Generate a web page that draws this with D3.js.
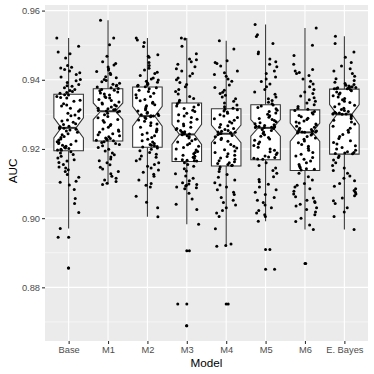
<!DOCTYPE html>
<html>
<head>
<meta charset="utf-8">
<script src="https://cdn.jsdelivr.net/npm/d3@7"></script>
<style>
  body { margin: 0; background: #fff; }
  text { font-family: "Liberation Sans", Arial, sans-serif; }
</style>
</head>
<body>
<div id="vis"></div>
<script>
const FRAME_WIDTH = 374;
const FRAME_HEIGHT = 374;
const MARGINS = {left: 45, right: 6, top: 5, bottom: 33};

// categories
const models = ["Base", "M1", "M2", "M3", "M4", "M5", "M6", "E. Bayes"];

// box statistics (lower whisker, Q1, median, Q3, upper whisker)
const whiskerLo = [0.8970, 0.9097, 0.9004, 0.8982, 0.8919, 0.8991, 0.8967, 0.8967];
const q1 =        [0.9195, 0.9223, 0.9205, 0.9164, 0.9151, 0.9169, 0.9138, 0.9185];
const medians =   [0.9261, 0.9309, 0.9295, 0.9242, 0.9244, 0.9261, 0.9248, 0.9300];
const q3 =        [0.9358, 0.9374, 0.9379, 0.9333, 0.9316, 0.9328, 0.9313, 0.9373];
const whiskerHi = [0.9521, 0.9572, 0.9521, 0.9521, 0.9513, 0.9560, 0.9550, 0.9526];
const notchLo =   [0.9232, 0.9285, 0.9266, 0.9213, 0.9218, 0.9237, 0.9222, 0.9270];
const notchHi =   [0.9290, 0.9333, 0.9323, 0.9271, 0.9269, 0.9285, 0.9275, 0.9328];

// AUC of each run, per model
const aucBase = [0.9521, 0.9497, 0.9480, 0.9475, 0.9463, 0.9441, 0.9436, 0.9434, 0.9430, 0.9425, 0.9420, 0.9415, 0.9408, 0.9401, 0.9397, 0.9392, 0.9386, 0.9383, 0.9381, 0.9377, 0.9372, 0.9369, 0.9366, 0.9363, 0.9361,
  0.9357, 0.9356, 0.9352, 0.9349, 0.9347, 0.9341, 0.9338, 0.9331, 0.9327, 0.9324, 0.9318, 0.9313, 0.9309, 0.9303, 0.9298, 0.9296, 0.9289, 0.9284, 0.9281, 0.9277, 0.9273, 0.9271, 0.9266, 0.9264, 0.9262,
  0.9260, 0.9259, 0.9257, 0.9255, 0.9252, 0.9248, 0.9244, 0.9241, 0.9236, 0.9233, 0.9229, 0.9226, 0.9223, 0.9221, 0.9219, 0.9216, 0.9213, 0.9211, 0.9208, 0.9205, 0.9203, 0.9201, 0.9199, 0.9197, 0.9196,
  0.9192, 0.9188, 0.9184, 0.9179, 0.9174, 0.9169, 0.9165, 0.9161, 0.9155, 0.9148, 0.9145, 0.9140, 0.9135, 0.9126, 0.9118, 0.9107, 0.9104, 0.9096, 0.9083, 0.9057, 0.9042, 0.9016, 0.8970, 0.8945, 0.8856];
const aucM1 = [0.9572, 0.9521, 0.9501, 0.9468, 0.9452, 0.9447, 0.9443, 0.9437, 0.9432, 0.9428, 0.9424, 0.9419, 0.9415, 0.9409, 0.9406, 0.9401, 0.9398, 0.9394, 0.9390, 0.9387, 0.9384, 0.9382, 0.9379, 0.9377, 0.9375,
  0.9372, 0.9370, 0.9368, 0.9365, 0.9362, 0.9359, 0.9356, 0.9352, 0.9349, 0.9347, 0.9343, 0.9340, 0.9336, 0.9333, 0.9330, 0.9327, 0.9324, 0.9321, 0.9318, 0.9316, 0.9314, 0.9313, 0.9311, 0.9310, 0.9309,
  0.9307, 0.9303, 0.9299, 0.9294, 0.9290, 0.9285, 0.9282, 0.9277, 0.9271, 0.9268, 0.9263, 0.9258, 0.9255, 0.9251, 0.9248, 0.9244, 0.9241, 0.9238, 0.9235, 0.9232, 0.9230, 0.9228, 0.9226, 0.9225, 0.9224,
  0.9221, 0.9219, 0.9216, 0.9213, 0.9209, 0.9204, 0.9199, 0.9194, 0.9188, 0.9183, 0.9177, 0.9171, 0.9166, 0.9160, 0.9154, 0.9147, 0.9142, 0.9135, 0.9128, 0.9121, 0.9115, 0.9110, 0.9106, 0.9101, 0.9097];
const aucM2 = [0.9521, 0.9515, 0.9508, 0.9496, 0.9472, 0.9468, 0.9465, 0.9450, 0.9441, 0.9433, 0.9428, 0.9422, 0.9418, 0.9412, 0.9405, 0.9402, 0.9399, 0.9396, 0.9393, 0.9391, 0.9388, 0.9386, 0.9384, 0.9382, 0.9380,
  0.9377, 0.9374, 0.9370, 0.9366, 0.9361, 0.9357, 0.9352, 0.9348, 0.9343, 0.9339, 0.9335, 0.9332, 0.9328, 0.9325, 0.9321, 0.9317, 0.9313, 0.9310, 0.9306, 0.9303, 0.9301, 0.9299, 0.9297, 0.9296, 0.9295,
  0.9293, 0.9291, 0.9288, 0.9284, 0.9280, 0.9276, 0.9272, 0.9268, 0.9263, 0.9258, 0.9254, 0.9250, 0.9246, 0.9242, 0.9238, 0.9233, 0.9228, 0.9224, 0.9220, 0.9216, 0.9213, 0.9211, 0.9209, 0.9207, 0.9206,
  0.9203, 0.9199, 0.9195, 0.9190, 0.9185, 0.9180, 0.9176, 0.9171, 0.9166, 0.9160, 0.9155, 0.9150, 0.9145, 0.9139, 0.9133, 0.9127, 0.9121, 0.9110, 0.9100, 0.9095, 0.9090, 0.9063, 0.9046, 0.9030, 0.9004];
const aucM3 = [0.9521, 0.9518, 0.9497, 0.9475, 0.9460, 0.9458, 0.9452, 0.9445, 0.9438, 0.9432, 0.9425, 0.9418, 0.9411, 0.9405, 0.9400, 0.9392, 0.9386, 0.9380, 0.9372, 0.9366, 0.9359, 0.9352, 0.9346, 0.9341, 0.9336,
  0.9331, 0.9328, 0.9324, 0.9321, 0.9317, 0.9312, 0.9308, 0.9303, 0.9299, 0.9295, 0.9291, 0.9286, 0.9281, 0.9277, 0.9272, 0.9267, 0.9263, 0.9259, 0.9256, 0.9253, 0.9250, 0.9248, 0.9246, 0.9244, 0.9243,
  0.9241, 0.9238, 0.9235, 0.9232, 0.9228, 0.9224, 0.9220, 0.9216, 0.9212, 0.9208, 0.9204, 0.9200, 0.9197, 0.9193, 0.9190, 0.9186, 0.9182, 0.9179, 0.9176, 0.9173, 0.9171, 0.9169, 0.9167, 0.9166, 0.9165,
  0.9160, 0.9155, 0.9150, 0.9143, 0.9136, 0.9128, 0.9122, 0.9115, 0.9108, 0.9102, 0.9099, 0.9097, 0.9095, 0.9093, 0.9090, 0.9088, 0.9085, 0.9072, 0.9055, 0.9040, 0.9025, 0.8982, 0.8906, 0.8752, 0.8689];
const aucM4 = [0.9513, 0.9489, 0.9455, 0.9450, 0.9447, 0.9440, 0.9425, 0.9420, 0.9415, 0.9410, 0.9402, 0.9396, 0.9385, 0.9378, 0.9370, 0.9364, 0.9360, 0.9355, 0.9350, 0.9345, 0.9338, 0.9333, 0.9327, 0.9322, 0.9318,
  0.9315, 0.9313, 0.9310, 0.9307, 0.9303, 0.9299, 0.9295, 0.9291, 0.9287, 0.9283, 0.9279, 0.9275, 0.9271, 0.9267, 0.9263, 0.9259, 0.9256, 0.9253, 0.9251, 0.9249, 0.9248, 0.9247, 0.9246, 0.9245, 0.9244,
  0.9242, 0.9239, 0.9235, 0.9231, 0.9227, 0.9222, 0.9218, 0.9213, 0.9208, 0.9203, 0.9198, 0.9194, 0.9190, 0.9186, 0.9182, 0.9178, 0.9174, 0.9170, 0.9166, 0.9163, 0.9160, 0.9158, 0.9155, 0.9153, 0.9152,
  0.9148, 0.9142, 0.9135, 0.9126, 0.9118, 0.9110, 0.9102, 0.9096, 0.9090, 0.9082, 0.9075, 0.9068, 0.9060, 0.9052, 0.9045, 0.9038, 0.9030, 0.9022, 0.9015, 0.9005, 0.8969, 0.8925, 0.8921, 0.8919, 0.8752];
const aucM5 = [0.9560, 0.9530, 0.9525, 0.9505, 0.9480, 0.9475, 0.9460, 0.9452, 0.9445, 0.9438, 0.9425, 0.9418, 0.9408, 0.9402, 0.9395, 0.9388, 0.9380, 0.9372, 0.9365, 0.9358, 0.9350, 0.9345, 0.9340, 0.9335, 0.9331,
  0.9327, 0.9324, 0.9320, 0.9316, 0.9312, 0.9308, 0.9304, 0.9300, 0.9296, 0.9292, 0.9288, 0.9285, 0.9282, 0.9279, 0.9276, 0.9273, 0.9270, 0.9268, 0.9266, 0.9265, 0.9264, 0.9263, 0.9262, 0.9262, 0.9261,
  0.9259, 0.9256, 0.9253, 0.9249, 0.9245, 0.9241, 0.9237, 0.9233, 0.9229, 0.9225, 0.9220, 0.9215, 0.9210, 0.9205, 0.9200, 0.9196, 0.9192, 0.9188, 0.9184, 0.9180, 0.9177, 0.9175, 0.9173, 0.9171, 0.9170,
  0.9160, 0.9152, 0.9145, 0.9138, 0.9130, 0.9120, 0.9112, 0.9105, 0.9098, 0.9090, 0.9082, 0.9075, 0.9068, 0.9060, 0.9052, 0.9045, 0.9038, 0.9030, 0.9022, 0.9015, 0.9010, 0.9005, 0.8991, 0.8909, 0.8852];
const aucM6 = [0.9550, 0.9500, 0.9470, 0.9445, 0.9430, 0.9425, 0.9421, 0.9418, 0.9412, 0.9402, 0.9396, 0.9388, 0.9380, 0.9372, 0.9365, 0.9360, 0.9353, 0.9348, 0.9342, 0.9338, 0.9333, 0.9328, 0.9323, 0.9318, 0.9315,
  0.9311, 0.9308, 0.9305, 0.9301, 0.9297, 0.9293, 0.9289, 0.9285, 0.9281, 0.9278, 0.9275, 0.9272, 0.9269, 0.9266, 0.9263, 0.9260, 0.9258, 0.9256, 0.9254, 0.9252, 0.9251, 0.9250, 0.9249, 0.9249, 0.9248,
  0.9246, 0.9243, 0.9240, 0.9236, 0.9232, 0.9228, 0.9223, 0.9218, 0.9213, 0.9208, 0.9202, 0.9196, 0.9190, 0.9185, 0.9180, 0.9175, 0.9170, 0.9165, 0.9160, 0.9155, 0.9150, 0.9146, 0.9143, 0.9141, 0.9139,
  0.9130, 0.9120, 0.9110, 0.9100, 0.9095, 0.9090, 0.9085, 0.9078, 0.9070, 0.9062, 0.9058, 0.9052, 0.9048, 0.9045, 0.9040, 0.9035, 0.9030, 0.9025, 0.9018, 0.9010, 0.9000, 0.8990, 0.8980, 0.8967, 0.8869];
const aucEB = [0.9526, 0.9505, 0.9480, 0.9465, 0.9450, 0.9440, 0.9432, 0.9425, 0.9418, 0.9410, 0.9403, 0.9398, 0.9393, 0.9389, 0.9386, 0.9384, 0.9382, 0.9380, 0.9379, 0.9378, 0.9377, 0.9376, 0.9375, 0.9374, 0.9374,
  0.9371, 0.9368, 0.9365, 0.9362, 0.9358, 0.9354, 0.9350, 0.9346, 0.9342, 0.9338, 0.9334, 0.9330, 0.9326, 0.9322, 0.9318, 0.9314, 0.9311, 0.9308, 0.9306, 0.9304, 0.9303, 0.9302, 0.9301, 0.9301, 0.9300,
  0.9297, 0.9293, 0.9288, 0.9283, 0.9278, 0.9272, 0.9266, 0.9260, 0.9254, 0.9248, 0.9242, 0.9236, 0.9230, 0.9224, 0.9219, 0.9214, 0.9209, 0.9204, 0.9200, 0.9196, 0.9192, 0.9190, 0.9188, 0.9187, 0.9186,
  0.9180, 0.9175, 0.9168, 0.9160, 0.9152, 0.9145, 0.9138, 0.9130, 0.9122, 0.9115, 0.9108, 0.9100, 0.9092, 0.9085, 0.9080, 0.9075, 0.9070, 0.9065, 0.9058, 0.9050, 0.9042, 0.9030, 0.9018, 0.9005, 0.8967];

const yTicks = [0.88, 0.90, 0.92, 0.94, 0.96];
const yMinor = [0.87, 0.89, 0.91, 0.93, 0.95];

const allAuc = [aucBase, aucM1, aucM2, aucM3, aucM4, aucM5, aucM6, aucEB];

const VIS_WIDTH = FRAME_WIDTH - MARGINS.left - MARGINS.right;
const VIS_HEIGHT = FRAME_HEIGHT - MARGINS.top - MARGINS.bottom;

const FRAME = d3.select("#vis")
  .append("svg")
    .attr("width", FRAME_WIDTH)
    .attr("height", FRAME_HEIGHT);

// ggplot style 5% expansion on y
const ext = d3.extent(allAuc.flat());
const pad = (ext[1] - ext[0]) * 0.05;
const Y_SCALE = d3.scaleLinear()
  .domain([ext[0] - pad, ext[1] + pad])
  .range([VIS_HEIGHT, 0]);

const X_SCALE = d3.scalePoint()
  .domain(models)
  .range([0, VIS_WIDTH])
  .padding(0.6);

const step = X_SCALE.step();
const boxW = step * 0.75;

const G = FRAME.append("g")
  .attr("transform", "translate(" + MARGINS.left + "," + MARGINS.top + ")");

// panel
G.append("rect")
  .attr("width", VIS_WIDTH)
  .attr("height", VIS_HEIGHT)
  .attr("fill", "#EBEBEB");

// grid
G.selectAll(".minor")
  .data(yMinor)
  .enter()
  .append("line")
    .attr("x1", 0).attr("x2", VIS_WIDTH)
    .attr("y1", d => Y_SCALE(d)).attr("y2", d => Y_SCALE(d))
    .attr("stroke", "#fff").attr("stroke-width", 0.55);

G.selectAll(".major")
  .data(yTicks)
  .enter()
  .append("line")
    .attr("x1", 0).attr("x2", VIS_WIDTH)
    .attr("y1", d => Y_SCALE(d)).attr("y2", d => Y_SCALE(d))
    .attr("stroke", "#fff").attr("stroke-width", 1.1);

G.selectAll(".vmajor")
  .data(models)
  .enter()
  .append("line")
    .attr("x1", d => X_SCALE(d)).attr("x2", d => X_SCALE(d))
    .attr("y1", 0).attr("y2", VIS_HEIGHT)
    .attr("stroke", "#fff").attr("stroke-width", 1.1);

// axes
const yAxis = G.append("g")
  .call(d3.axisLeft(Y_SCALE).tickValues(yTicks).tickFormat(d3.format(".2f")).tickSize(3).tickPadding(2));
const xAxis = G.append("g")
  .attr("transform", "translate(0," + VIS_HEIGHT + ")")
  .call(d3.axisBottom(X_SCALE).tickSize(3).tickPadding(2));
[yAxis, xAxis].forEach(a => {
  a.select(".domain").remove();
  a.selectAll(".tick line").attr("stroke", "#333333").attr("stroke-width", 1.1);
  a.selectAll(".tick text").attr("fill", "#4D4D4D").attr("font-size", "9.3px")
    .attr("font-family", "'Liberation Sans', Arial, sans-serif");
});

// boxes
const stats = models.map((m, i) => ({
  m: m, lo: whiskerLo[i], q1: q1[i], med: medians[i], q3: q3[i], hi: whiskerHi[i],
  nlo: notchLo[i], nhi: notchHi[i], vals: allAuc[i]
}));

const boxes = G.selectAll(".box")
  .data(stats)
  .enter()
  .append("g");

boxes.append("line")
  .attr("x1", d => X_SCALE(d.m)).attr("x2", d => X_SCALE(d.m))
  .attr("y1", d => Y_SCALE(d.q3)).attr("y2", d => Y_SCALE(d.hi))
  .attr("stroke", "#333333").attr("stroke-width", 1.05);
boxes.append("line")
  .attr("x1", d => X_SCALE(d.m)).attr("x2", d => X_SCALE(d.m))
  .attr("y1", d => Y_SCALE(d.q1)).attr("y2", d => Y_SCALE(d.lo))
  .attr("stroke", "#333333").attr("stroke-width", 1.05);

boxes.append("path")
  .attr("d", d => {
    const c = X_SCALE(d.m), l = c - boxW / 2, r = c + boxW / 2;
    const nl = c - boxW / 4, nr = c + boxW / 4;
    return d3.line()([
      [l, Y_SCALE(d.q3)], [r, Y_SCALE(d.q3)], [r, Y_SCALE(d.nhi)], [nr, Y_SCALE(d.med)],
      [r, Y_SCALE(d.nlo)], [r, Y_SCALE(d.q1)], [l, Y_SCALE(d.q1)], [l, Y_SCALE(d.nlo)],
      [nl, Y_SCALE(d.med)], [l, Y_SCALE(d.nhi)]
    ]) + "Z";
  })
  .attr("fill", "#fff")
  .attr("stroke", "#333333")
  .attr("stroke-width", 1.05);

boxes.append("line")
  .attr("x1", d => X_SCALE(d.m) - boxW / 4).attr("x2", d => X_SCALE(d.m) + boxW / 4)
  .attr("y1", d => Y_SCALE(d.med)).attr("y2", d => Y_SCALE(d.med))
  .attr("stroke", "#333333").attr("stroke-width", 2);

// outliers at the box centre
boxes.selectAll(".out")
  .data(d => d.vals.filter(v => v < d.lo || v > d.hi).map(v => ({m: d.m, v: v})))
  .enter()
  .append("circle")
    .attr("cx", d => X_SCALE(d.m))
    .attr("cy", d => Y_SCALE(d.v))
    .attr("r", 1.5)
    .attr("fill", "#000");

// jittered points (fixed pseudo jitter so the picture is stable)
function jit(i, g) {
  const s = Math.sin(i * 12.9898 + g * 78.233) * 43758.5453;
  return (s - Math.floor(s)) * 2 - 1;
}
const pts = [];
stats.forEach((d, g) => d.vals.forEach((v, i) => pts.push({m: d.m, v: v, j: jit(i, g)})));

G.selectAll(".pt")
  .data(pts)
  .enter()
  .append("circle")
    .attr("cx", d => X_SCALE(d.m) + d.j * step * 0.3)
    .attr("cy", d => Y_SCALE(d.v))
    .attr("r", 1.5)
    .attr("fill", "#000");

// titles
FRAME.append("text")
  .attr("x", MARGINS.left + VIS_WIDTH / 2)
  .attr("y", 367)
  .attr("text-anchor", "middle")
  .attr("font-size", "11.7px")
  .attr("fill", "#000")
  .text("Model");

FRAME.append("text")
  .attr("transform", "translate(16.5," + (MARGINS.top + VIS_HEIGHT / 2 - 2) + ") rotate(-90)")
  .attr("text-anchor", "middle")
  .attr("font-size", "11.7px")
  .attr("fill", "#000")
  .text("AUC");
</script>
</body>
</html>
